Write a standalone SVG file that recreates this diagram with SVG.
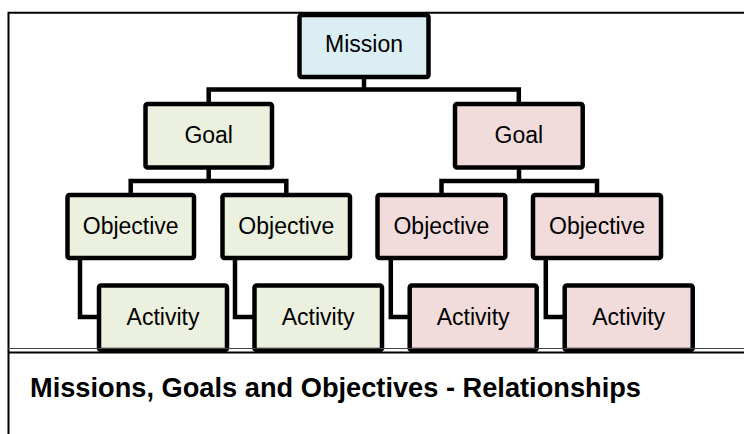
<svg xmlns="http://www.w3.org/2000/svg" width="744" height="434" viewBox="0 0 744 434">
  <style>
    .box { stroke: #000; stroke-width: 4.5; rx: 2; }
    .mission { fill: #DBEEF4; }
    .green { fill: #EBF1DE; }
    .pink { fill: #F2DCDB; }
    .lbl { font-family: "Liberation Sans", Arial, sans-serif; font-size: 23px; fill: #000; text-anchor: middle; }
    .cap { font-family: "Liberation Sans", Arial, sans-serif; font-size: 27px; font-weight: bold; fill: #000; }
    .conn { fill: none; stroke: #000; stroke-width: 4.5; stroke-linejoin: miter; }
    .frame { fill: none; stroke: #000; stroke-width: 2; }
  </style>
  <rect x="0" y="0" width="744" height="434" fill="#fff"/>
  <defs>
    <clipPath id="panel"><rect x="0" y="0" width="744" height="352"/></clipPath>
  </defs>

  <g id="connectors" clip-path="url(#panel)">
    <polyline class="conn" points="364,77 364,89.5"/>
    <polyline class="conn" points="208.7,104 208.7,89.5 518.8,89.5 518.8,104"/>
    <polyline class="conn" points="208.7,167.5 208.7,181"/>
    <polyline class="conn" points="130.7,195 130.7,181 286.3,181 286.3,195"/>
    <polyline class="conn" points="519,167.5 519,181"/>
    <polyline class="conn" points="441.5,195 441.5,181 597,181 597,195"/>
    <polyline class="conn" points="80,258 80,317 99,317"/>
    <polyline class="conn" points="235,258 235,317 254.5,317"/>
    <polyline class="conn" points="390.8,258 390.8,317 409.7,317"/>
    <polyline class="conn" points="545.8,258 545.8,317 564.7,317"/>
  </g>

  <g id="mission">
    <rect class="box mission" x="299.5" y="15" width="129" height="62"/>
    <text class="lbl" x="364" y="52">Mission</text>
  </g>

  <g id="goal-left">
    <rect class="box green" x="145.5" y="104" width="126.5" height="63.5"/>
    <text class="lbl" x="208.7" y="143">Goal</text>
  </g>
  <g id="goal-right">
    <rect class="box pink" x="455" y="104" width="127.7" height="63.5"/>
    <text class="lbl" x="518.8" y="143">Goal</text>
  </g>

  <g id="objective-1">
    <rect class="box green" x="67.5" y="195" width="126.5" height="63"/>
    <text class="lbl" x="130.7" y="234">Objective</text>
  </g>
  <g id="objective-2">
    <rect class="box green" x="222.5" y="195" width="127.5" height="63"/>
    <text class="lbl" x="286.3" y="234">Objective</text>
  </g>
  <g id="objective-3">
    <rect class="box pink" x="377.5" y="195" width="127.8" height="63"/>
    <text class="lbl" x="441.4" y="234">Objective</text>
  </g>
  <g id="objective-4">
    <rect class="box pink" x="533" y="195" width="128" height="63"/>
    <text class="lbl" x="597" y="234">Objective</text>
  </g>

  <g clip-path="url(#panel)">
    <g id="activity-1">
      <rect class="box green" x="99" y="285.5" width="128" height="64.5"/>
      <text class="lbl" x="163" y="325">Activity</text>
    </g>
    <g id="activity-2">
      <rect class="box green" x="254.5" y="285.5" width="127.5" height="64.5"/>
      <text class="lbl" x="318.2" y="325">Activity</text>
    </g>
    <g id="activity-3">
      <rect class="box pink" x="409.7" y="285.5" width="127" height="64.5"/>
      <text class="lbl" x="473.2" y="325">Activity</text>
    </g>
    <g id="activity-4">
      <rect class="box pink" x="564.7" y="285.5" width="128" height="64.5"/>
      <text class="lbl" x="628.7" y="325">Activity</text>
    </g>
  </g>

  <g id="frame">
    <polyline class="frame" points="8.5,352 8.5,12.7 744,12.7"/>
    <line x1="8" y1="348.5" x2="744" y2="348.5" stroke="#444" stroke-width="1"/>
    <polyline class="frame" points="8.5,434 8.5,352.5 744,352.5"/>
  </g>

  <g id="caption">
    <text class="cap" x="30" y="397" textLength="611" lengthAdjust="spacingAndGlyphs">Missions, Goals and Objectives - Relationships</text>
  </g>
</svg>
